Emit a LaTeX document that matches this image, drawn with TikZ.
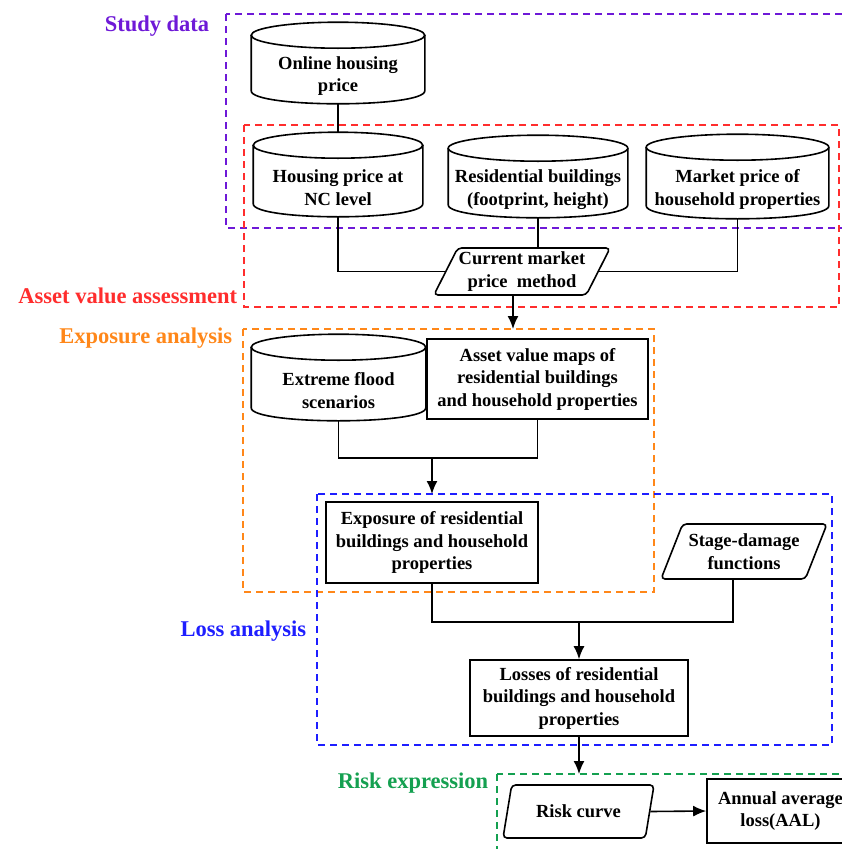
\documentclass[tikz,border=0pt]{standalone}
\usepackage{fontspec}
\setmainfont{Liberation Serif}
\usepackage{tikz}
\usetikzlibrary{shapes.geometric}
\usetikzlibrary{positioning}
\usetikzlibrary{calc}
\usetikzlibrary{arrows.meta}
\definecolor{studycol}{RGB}{110,25,215}
\definecolor{assetcol}{RGB}{255,45,45}
\definecolor{exposcol}{RGB}{255,135,25}
\definecolor{losscol}{RGB}{30,30,255}
\definecolor{riskcol}{RGB}{20,160,80}
\newcommand{\boxfont}{\fontsize{18.5}{22.5}\selectfont\bfseries}
\newcommand{\labfont}{\fontsize{22.5}{26}\selectfont\bfseries}
\newcommand{\cylframe}[1]{%
\draw let \p1=($(#1.east)-(#1.west)$) in ($(#1.north)+(0,-13)$) ellipse [x radius=0.5*\x1, y radius=13pt];
\draw ($(#1.north west)+(0,-13)$) -- ($(#1.south west)+(0,-13)$) .. controls ($(#1.south west)+(0,4.33)$) and ($(#1.south east)+(0,4.33)$) .. ($(#1.south east)+(0,-13)$) -- ($(#1.north east)+(0,-13)$);
\coordinate (#1 top) at ($(#1.north)+(0,-26)$);}
\tikzset{every picture/.style={line width=1.6pt,x=1pt,y=-1pt}}
\tikzset{datacyl/.style={rectangle,align=center,font=\boxfont,inner sep=0pt}}
\tikzset{procbox/.style={draw,fill=white,rectangle,align=center,font=\boxfont,inner sep=1pt}}
\tikzset{inpar/.style={draw,fill=white,trapezium,trapezium left angle=60,trapezium right angle=120,trapezium stretches body,rounded corners=4pt,align=center,font=\boxfont,inner sep=1pt}}
\tikzset{stagebox/.style={dash pattern=on 7pt off 5pt,line width=1.8pt}}
\tikzset{stagelab/.style={anchor=east,font=\labfont,inner sep=0pt}}
\tikzset{flow/.style={-{Latex[length=13pt,width=11pt]}}}

\begin{document}
\begin{tikzpicture}
\useasboundingbox (0,0) rectangle (842,849);
\clip (0,0) rectangle (842,849);
\draw[stagebox,studycol] (226,14) rectangle (860,228);
\draw[stagebox,assetcol] (244,125) rectangle (839,307);
\draw[stagebox,exposcol] (243,329) rectangle (654,592);
\draw[stagebox,losscol] (317,494) rectangle (832,745);
\draw[stagebox,riskcol] (497,774) rectangle (860,870);
\node[stagelab,studycol] (studylab) at (210,26) {Study data};
\node[stagelab,assetcol] (assetlab) at (238,296) {Asset value assessment};
\node[stagelab,exposcol] (exposlab) at (233,338) {Exposure analysis};
\node[stagelab,losscol] (losslab) at (307,631) {Loss analysis};
\node[stagelab,riskcol] (risklab) at (489,783) {Risk expression};

\node[datacyl,minimum width=172,minimum height=54] (online) at (338,76) {Online housing\\price};
\node[datacyl,minimum width=168,minimum height=57] (hpnc) at (338,187.5) {Housing price at\\NC level};
\node[datacyl,minimum width=178,minimum height=55] (resbld) at (538,189.5) {Residential buildings\\(footprint, height)};
\node[datacyl,minimum width=181,minimum height=57] (mktprice) at (737.5,189.5) {Market price of\\household properties};
\node[inpar,minimum width=174,minimum height=47] (cmpm) at (522,271.5) {Current market\\price~~method};
\node[datacyl,minimum width=173,minimum height=59] (flood) at (338.5,390.5) {Extreme flood\\scenarios};
\node[procbox,minimum width=221,minimum height=80] (avmap) at (537.5,379) {Asset value maps of\\residential buildings\\and household properties};
\node[procbox,minimum width=212,minimum height=81] (expo) at (432,542.5) {Exposure of residential\\buildings and household\\properties};
\node[inpar,minimum width=166,minimum height=55] (stage) at (744,551.5) {Stage-damage\\functions};
\node[procbox,minimum width=218,minimum height=76] (losses) at (579,698) {Losses of residential\\buildings and household\\properties};
\node[inpar,minimum width=151,minimum height=53] (risk) at (578.5,811.5) {Risk curve};
\node[procbox,minimum width=147,minimum height=64] (aal) at (780.5,811) {Annual average\\loss(AAL)};
\cylframe{online}
\cylframe{hpnc}
\cylframe{resbld}
\cylframe{mktprice}
\cylframe{flood}

\coordinate (expotop) at (513,329);
\coordinate (floodjoin) at (432,458);
\coordinate (losstop) at (432,494);
\coordinate (expojoin) at (579,622);
\coordinate (risktop) at (579,774);

\draw (online.south) -- (hpnc top);
\draw (hpnc.south) |- (cmpm.left side);
\draw (resbld.south) -- (resbld.south |- cmpm.top side);
\draw (mktprice.south) |- (cmpm.right side);
\draw[flow] (expotop |- cmpm.south) -- (expotop);
\draw (flood.south) |- (floodjoin) -| (avmap.south);
\draw[flow] (floodjoin) -- (losstop);
\draw (expo.south) |- (expojoin) -| (stage.bottom side);
\draw[flow] (expojoin) -- (losses.north);
\draw[flow] (losses.south) -- (risktop);
\draw[flow] (risk.east) -- (aal.west);
\end{tikzpicture}
\end{document}
